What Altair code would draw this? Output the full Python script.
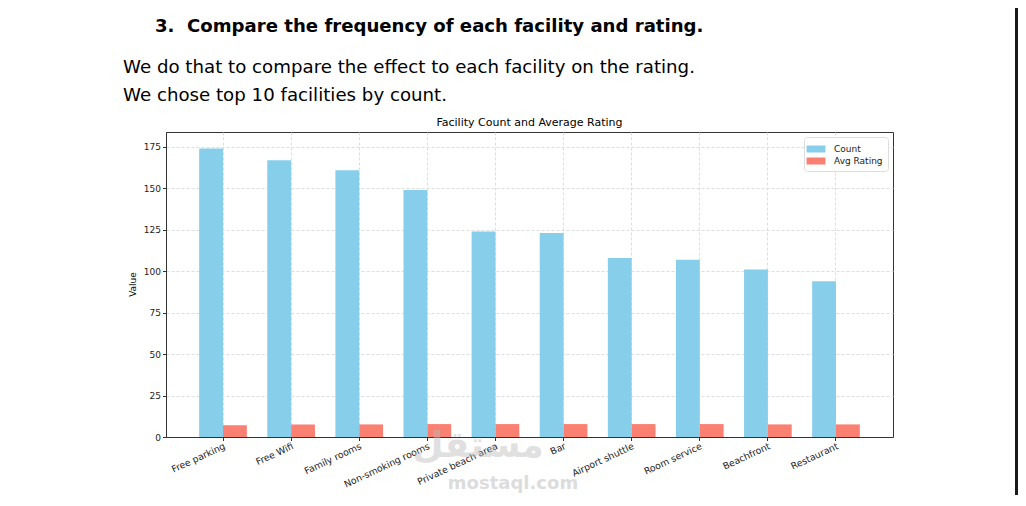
"""Facility count vs average rating, grouped bars, rebuilt in Altair."""

import pandas as pd
import altair as alt


FACILITIES = [
    "Free parking",
    "Free Wifi",
    "Family rooms",
    "Non-smoking rooms",
    "Private beach area",
    "Bar",
    "Airport shuttle",
    "Room service",
    "Beachfront",
    "Restaurant",
]
COUNTS = [174, 167, 161, 149, 124, 123, 108, 107, 101, 94]
AVG_RATINGS = [7.1, 7.6, 7.6, 7.8, 7.8, 7.8, 7.8, 7.8, 7.6, 7.6]
SERIES = ["Count", "Avg Rating"]
SERIES_COLORS = ["#87CEEB", "#FA8072"]
Y_TICKS = [0, 25, 50, 75, 100, 125, 150, 175]

HEADING = "3.\u00a0 Compare the frequency of each facility and rating."
BODY_LINES = [
    "We do that to compare the effect to each facility on the rating.",
    "We chose top 10 facilities by count.",
]
CHART_TITLE = "Facility Count and Average Rating"

FONT = "DejaVu Sans"
PLOT_W = 727
PLOT_H = 305


def build_long_table():
    records = []
    for name, count, rating in zip(FACILITIES, COUNTS, AVG_RATINGS):
        records.append({"facility": name, "series": "Count", "value": count})
        records.append({"facility": name, "series": "Avg Rating", "value": rating})
    return pd.DataFrame(records)


def text_layer(text, x, y, size, weight="normal", align="left", color="#000000",
               angle=0, opacity=1.0, font=FONT):
    one_row = pd.DataFrame({"t": [text]})
    return (
        alt.Chart(one_row)
        .mark_text(
            font=font,
            fontSize=size,
            fontWeight=weight,
            align=align,
            baseline="alphabetic",
            color=color,
            angle=angle,
            opacity=opacity,
        )
        .encode(x=alt.value(x), y=alt.value(y), text="t:N")
    )


df = build_long_table()

bars = (
    alt.Chart(df)
    .mark_bar()
    .encode(
        x=alt.X(
            "facility:N",
            sort=FACILITIES,
            title=None,
            scale=alt.Scale(paddingInner=0.3, paddingOuter=0.487),
            axis=alt.Axis(
                labelAngle=335,
                labelAlign="right",
                labelBaseline="top",
                labelFontSize=9.3,
                labelFont=FONT,
                labelColor="#222222",
                labelPadding=1,
                tickSize=3.5,
                tickColor="#333333",
                domain=True,
                domainColor="#333333",
                bandPosition=0.5,
                grid=True,
                gridDash=[3, 2],
                gridColor="#dddddd",
            ),
        ),
        xOffset=alt.XOffset("series:N", sort=SERIES, scale=alt.Scale(paddingInner=0, paddingOuter=0)),
        y=alt.Y(
            "value:Q",
            title=None,
            scale=alt.Scale(domain=[0, 184], nice=False, zero=True),
            axis=alt.Axis(
                values=Y_TICKS,
                labelFontSize=9,
                labelFont=FONT,
                labelColor="#222222",
                labelPadding=2,
                tickSize=3.5,
                tickColor="#333333",
                domain=True,
                domainColor="#333333",
                grid=True,
                gridDash=[3, 2],
                gridColor="#dddddd",
            ),
        ),
        color=alt.Color(
            "series:N",
            sort=SERIES,
            scale=alt.Scale(domain=SERIES, range=SERIES_COLORS),
            title=None,
            legend=alt.Legend(
                orient="top-right",
                offset=5,
                padding=5,
                fillColor="#ffffff",
                strokeColor="#dddddd",
                cornerRadius=3,
                labelFont=FONT,
                labelFontSize=9,
                labelColor="#222222",
                symbolType="M-1.35,-0.5L1.35,-0.5L1.35,0.5L-1.35,0.5Z",
                symbolSize=196,
                symbolStrokeWidth=0,
                rowPadding=0,
                labelOffset=11,
            ),
        ),
    )
)

annotations = [
    text_layer(HEADING, -11, -100, 18.1, weight="bold"),
    text_layer(BODY_LINES[0], -43, -59, 18.2),
    text_layer(BODY_LINES[1], -43, -31, 18.2),
    text_layer(CHART_TITLE, PLOT_W / 2, -6, 11, align="center"),
    text_layer("Value", -30, PLOT_H / 2, 9, align="center", angle=270),
    text_layer("\u0645\u0633\u062a\u0642\u0644", 312, 325, 36, weight="bold",
               align="center", color="#bbbbbb", opacity=0.45),
    text_layer("mostaql.com", 347, 357, 18, weight="bold", align="center",
               color="#bbbbbb", opacity=0.5),
]

edge = (
    alt.Chart(pd.DataFrame({"t": [0]}))
    .mark_rule(color="#1a1a1a", strokeWidth=3)
    .encode(x=alt.value(850.5), y=alt.value(-124), y2=alt.value(PLOT_H + 60))
)

chart = (
    alt.layer(bars, *annotations, edge)
    .properties(
        width=PLOT_W,
        height=PLOT_H,
        autosize=alt.AutoSizeParams(type="none"),
        padding={"left": 158, "top": 124, "right": 125, "bottom": 58},
        background="#ffffff",
    )
    .configure_view(stroke="#333333", strokeWidth=1)
)

chart.save("out.html", embed_options={"renderer": "svg", "actions": False})
